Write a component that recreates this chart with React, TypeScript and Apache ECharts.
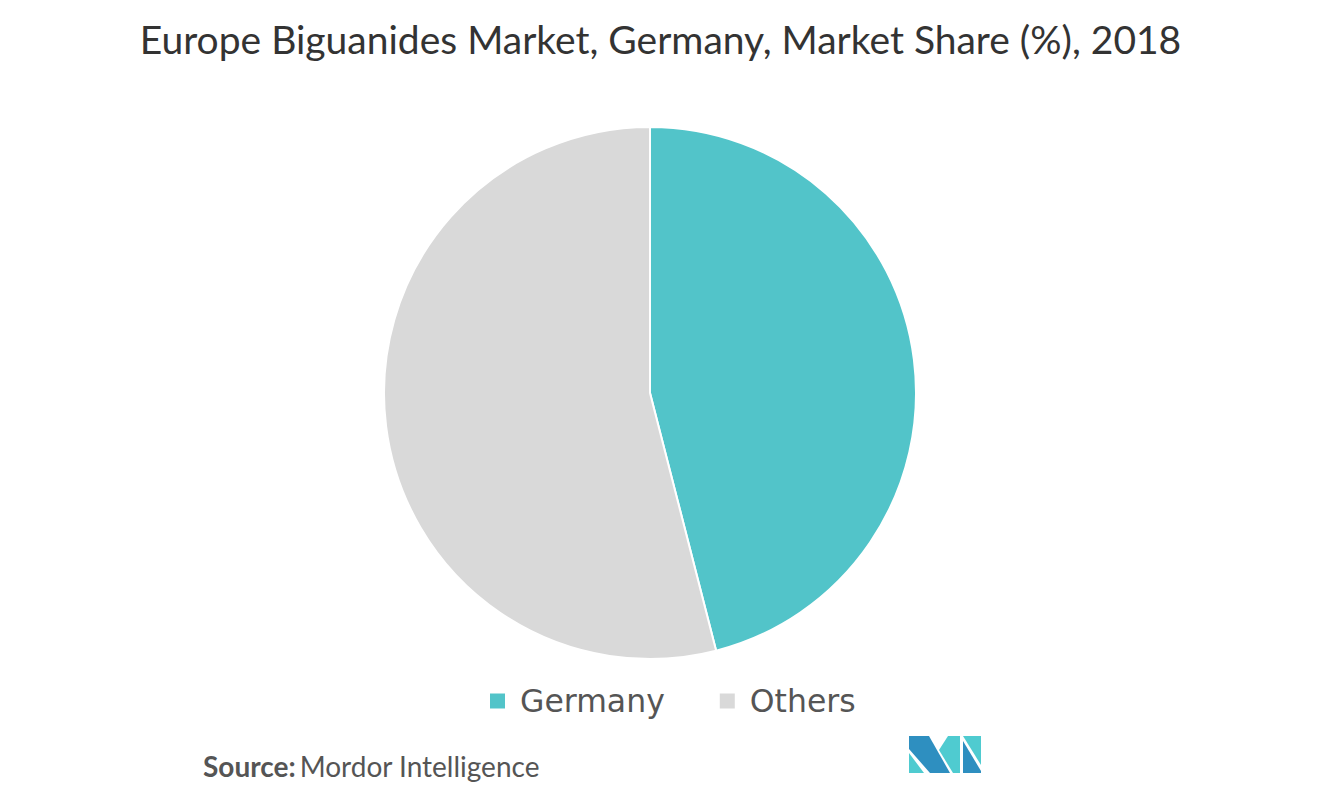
import React, { useEffect, useRef } from "react";
import * as echarts from "echarts";

const categories = ["Germany", "Others"];
const shares = [46, 54];
const colors = ["#52C4C9", "#D9D9D9"];
const titleText = "Europe Biguanides Market, Germany, Market Share (%), 2018";

export default function App() {
  const ref = useRef<HTMLDivElement>(null);
  useEffect(() => {
    if (!ref.current) return;
    const chart = echarts.init(ref.current, null, { renderer: "svg" });
    const font = "Lato, 'Noto Sans', sans-serif";
    const legendFont = "'DejaVu Sans', Lato, sans-serif";
    chart.setOption({
      animation: false,
      backgroundColor: "#ffffff",
      title: {
        text: titleText,
        left: "center",
        top: 14,
        textStyle: { fontFamily: font, fontSize: 39, fontWeight: "normal", color: "#333333" },
      },
      legend: {
        top: 685,
        left: 490,
        padding: 0,
        icon: "rect",
        itemWidth: 15,
        itemHeight: 15,
        itemGap: 55,
        itemStyle: { borderWidth: 0 },
        textStyle: { fontFamily: legendFont, fontSize: 31.5, color: "#555555", padding: [0, 0, 0, 10] },
        data: categories,
      },
      series: [
        {
          type: "pie",
          center: [650, 393],
          radius: 266,
          startAngle: 90,
          clockwise: true,
          label: { show: false },
          labelLine: { show: false },
          itemStyle: { borderColor: "#ffffff", borderWidth: 2 },
          data: categories.map((c, i) => ({ name: c, value: shares[i], itemStyle: { color: colors[i] } })),
        },
      ],
      graphic: [
        {
          type: "text",
          left: 203,
          top: 752,
          style: {
            rich: {
              b: { fontFamily: font, fontSize: 28, fontWeight: "bold", fill: "#555555" },
              n: { fontFamily: font, fontSize: 28, fill: "#555555", padding: [0, 0, 0, 4] },
            },
            text: "{b|Source:}{n|Mordor Intelligence}",
          },
        },
        {
          type: "group",
          left: 909,
          top: 736,
          children: [
            { type: "polygon", shape: { points: [[0, 0], [20, 0], [41, 37], [21, 37], [0, 13]] }, style: { fill: "#2E8FC0" } },
            { type: "polygon", shape: { points: [[0, 17], [0, 37], [15, 37]] }, style: { fill: "#4FCBD0" } },
            { type: "polygon", shape: { points: [[39, 0], [51, 0], [51, 37], [44, 37], [30, 14]] }, style: { fill: "#4FCBD0" } },
            { type: "polygon", shape: { points: [[54, 0], [72, 0], [72, 29]] }, style: { fill: "#4FCBD0" } },
            { type: "polygon", shape: { points: [[54, 5], [72, 35], [72, 37], [54, 37]] }, style: { fill: "#2E8FC0" } },
          ],
        },
      ],
    });
    return () => chart.dispose();
  }, []);
  return <div ref={ref} style={{ position: "fixed", left: 0, top: 0, width: 1321, height: 802 }} />;
}
